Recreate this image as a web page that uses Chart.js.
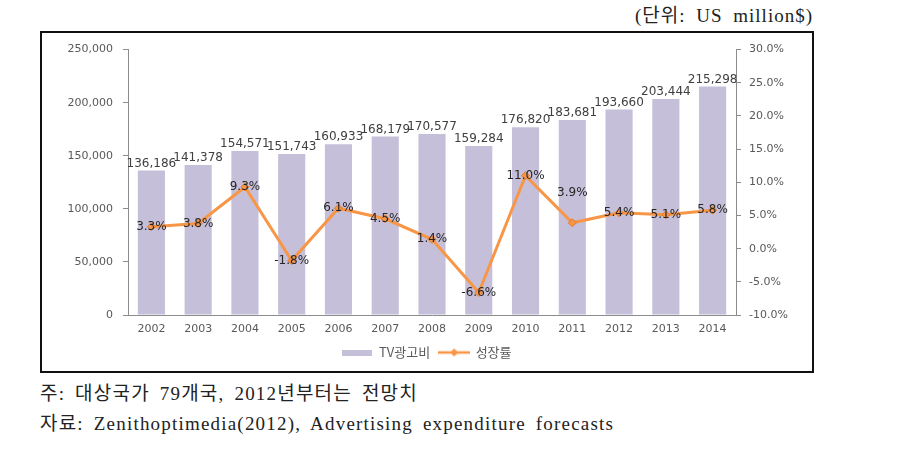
<!DOCTYPE html>
<html>
<head>
<meta charset="utf-8">
<script src="https://cdn.jsdelivr.net/npm/chart.js@4.4.1/dist/chart.umd.min.js"></script>
<style>
  html, body { margin:0; padding:0; background:#fff; }
  body { width:920px; height:471px; position:relative; overflow:hidden; }
  #unit { position:absolute; right:107px; top:0px; font-family:"Liberation Serif","Noto Sans CJK KR",serif; font-size:19px; letter-spacing:1px; word-spacing:5px; color:#222; white-space:nowrap; }
  #box { position:absolute; left:40px; top:31px; width:774px; height:342px; border:2px solid #111; box-sizing:border-box; background:#fff; }
  #chart { position:absolute; left:0; top:0; }
  .note { position:absolute; left:40px; font-family:"Liberation Serif","Noto Sans CJK KR",serif; font-size:19px; letter-spacing:1.2px; word-spacing:4px; color:#222; white-space:nowrap; }
</style>
</head>
<body>
<div id="unit">(단위: US million$)</div>
<div id="box"><canvas id="chart" width="770" height="338" style="width:770px;height:338px;"></canvas></div>
<div class="note" style="top:378px;">주: 대상국가 79개국, 2012년부터는 전망치</div>
<div class="note" style="top:408px;">자료: Zenithoptimedia(2012), Advertising expenditure forecasts</div>
<script>
const years = ['2002','2003','2004','2005','2006','2007','2008','2009','2010','2011','2012','2013','2014'];
const tvAdSpend = [136186,141378,154571,151743,160933,168179,170577,159284,176820,183681,193660,203444,215298];
const growthRate = [3.3,3.8,9.3,-1.8,6.1,4.5,1.4,-6.6,11.0,3.9,5.4,5.1,5.8];
const seriesNames = ['TV광고비','성장률'];
const leftTicks = { min:0, max:250000, step:50000 };
const rightTicks = { min:-10, max:30, step:5 };

const BAR_COLOR = '#C6BFDA';
const LINE_COLOR = '#F79646';
const AXIS_COLOR = '#8C8C8C';
const TICK_COLOR = '#595959';
const NUM_FONT = '"DejaVu Sans","Noto Sans",sans-serif';
const KR_FONT = '"Noto Sans CJK KR","Noto Sans",sans-serif';

function fmtThousands(v){ return Math.round(v).toString().replace(/\B(?=(\d{3})+(?!\d))/g, ','); }

// legend symbols
function makeBarSymbol(){
  const c = document.createElement('canvas'); c.width = 30; c.height = 6;
  const g = c.getContext('2d'); g.fillStyle = BAR_COLOR; g.fillRect(0,0,30,6); return c;
}
function makeLineSymbol(){
  const c = document.createElement('canvas'); c.width = 32; c.height = 10;
  const g = c.getContext('2d');
  g.strokeStyle = LINE_COLOR; g.lineWidth = 2.5; g.beginPath(); g.moveTo(0,5); g.lineTo(32,5); g.stroke();
  g.fillStyle = LINE_COLOR; g.beginPath(); g.moveTo(16,1); g.lineTo(20,5); g.lineTo(16,9); g.lineTo(12,5); g.closePath(); g.fill();
  return c;
}
const legendSymbols = [makeBarSymbol(), makeLineSymbol()];

const valueLabels = {
  id:'valueLabels',
  afterDatasetsDraw(chart, args, opts){
    const ctx = chart.ctx;
    ctx.save();
    ctx.font = '12px ' + NUM_FONT;
    ctx.textAlign = 'center';
    // bar labels
    const mb = chart.getDatasetMeta(0);
    ctx.fillStyle = '#404040';
    ctx.textBaseline = 'bottom';
    mb.data.forEach((el, i) => { ctx.fillText(fmtThousands(tvAdSpend[i]), el.x, el.y - 1); });
    // line labels
    const ml = chart.getDatasetMeta(1);
    ctx.fillStyle = '#262626';
    ctx.textBaseline = 'middle';
    ml.data.forEach((el, i) => {
      const dy = (opts.lineOffsets && opts.lineOffsets[i]) || 0;
      ctx.fillText(growthRate[i].toFixed(1) + '%', el.x, el.y + dy);
    });
    ctx.restore();
  }
};

new Chart(document.getElementById('chart'), {
  data: {
    labels: years,
    datasets: [
      { type:'bar', label:seriesNames[0], data:tvAdSpend, yAxisID:'y', backgroundColor:BAR_COLOR,
        categoryPercentage:1.0, barPercentage:0.58, order:1 },
      { type:'line', label:seriesNames[1], data:growthRate, yAxisID:'y1', borderColor:LINE_COLOR,
        backgroundColor:LINE_COLOR, borderWidth:3, pointStyle:'rectRot', pointRadius:4,
        pointBackgroundColor:LINE_COLOR, pointBorderColor:'#E07A2C', pointBorderWidth:1, tension:0, order:0 }
    ]
  },
  options: {
    responsive:false, animation:false, devicePixelRatio:1,
    layout:{ padding:{ top:16, left:0, right:0, bottom:2 } },
    plugins:{
      tooltip:{ enabled:false },
      valueLabels:{ lineOffsets:[0,0,0,0,0,0,0,0,0,-30,0,0,0] },
      legend:{
        position:'bottom',
        labels:{
          usePointStyle:true, pointStyleWidth:30, padding:9,
          color:TICK_COLOR, font:{ family:KR_FONT, size:13 },
          generateLabels(chart){
            return chart.data.datasets.map((ds, i) => ({
              text: ds.label, pointStyle: legendSymbols[i], fillStyle: 'transparent',
              strokeStyle:'transparent', lineWidth:0, hidden:false, datasetIndex:i, fontColor:TICK_COLOR
            }));
          }
        }
      }
    },
    scales:{
      x:{
        grid:{ display:true, drawOnChartArea:false, drawTicks:false },
        border:{ display:true, color:AXIS_COLOR, width:1 },
        ticks:{ color:TICK_COLOR, font:{ family:NUM_FONT, size:11 }, padding:8, maxRotation:0 },
        afterFit(s){ s.height = 22; }
      },
      y:{
        position:'left', min:leftTicks.min, max:leftTicks.max,
        grid:{ drawOnChartArea:false, drawTicks:true, tickLength:5, color:AXIS_COLOR },
        border:{ display:true, color:AXIS_COLOR, width:1 },
        ticks:{ stepSize:leftTicks.step, color:TICK_COLOR, font:{ family:NUM_FONT, size:11 }, padding:10,
          callback:(v) => fmtThousands(v) },
        afterFit(s){ s.width = 86; }
      },
      y1:{
        position:'right', min:rightTicks.min, max:rightTicks.max,
        grid:{ drawOnChartArea:false, drawTicks:true, tickLength:5, color:AXIS_COLOR },
        border:{ display:true, color:AXIS_COLOR, width:1 },
        ticks:{ stepSize:rightTicks.step, color:TICK_COLOR, font:{ family:NUM_FONT, size:11 }, padding:8,
          callback:(v) => Number(v).toFixed(1) + '%' },
        afterFit(s){ s.width = 76; }
      }
    }
  },
  plugins:[valueLabels]
});
</script>
</body>
</html>
